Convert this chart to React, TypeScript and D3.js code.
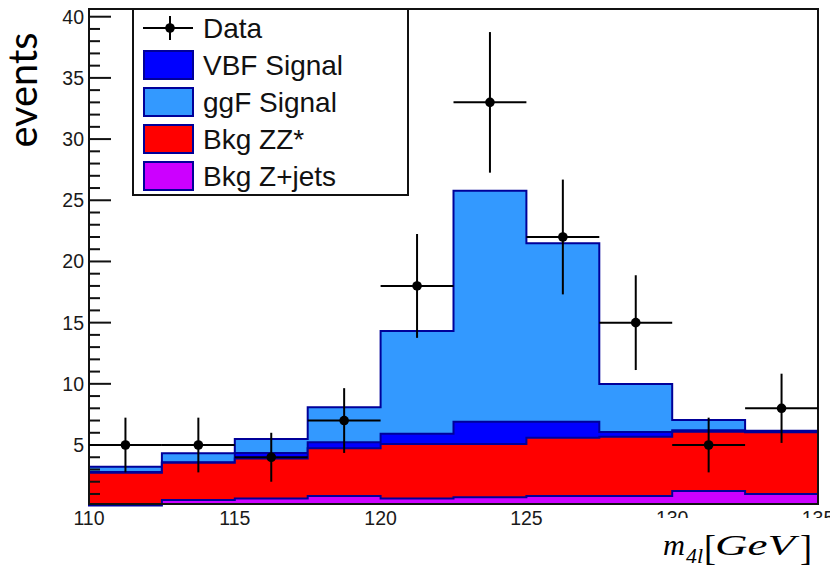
import React from "react";
import * as d3 from "d3";

// Bin edges of the four-lepton invariant mass histogram (GeV)
const binEdges = [110, 112.5, 115, 117.5, 120, 122.5, 125, 127.5, 130, 132.5, 135];

// Expected events per bin, per component (stacked bottom to top)
const bkgZjets = [0.05, 0.5, 0.62, 0.83, 0.62, 0.73, 0.83, 0.83, 1.24, 1.0];
const bkgZZ = [2.69, 3.06, 3.28, 3.9, 4.46, 4.35, 4.77, 4.85, 4.85, 5.04];
const vbfSignal = [0.06, 0.04, 0.45, 0.49, 0.84, 1.82, 1.3, 0.39, 0.11, 0.02];
const ggfSignal = [0.43, 0.72, 1.14, 2.86, 8.39, 18.88, 14.58, 3.91, 0.84, 0.11];

// Observed counts per bin
const dataCounts = [5, 5, 4, 7, 18, 33, 22, 15, 5, 8];

const xTicks = [110, 115, 120, 125, 130, 135];
const yMajorTicks = [5, 10, 15, 20, 25, 30, 35, 40];

const legendLabels = ["Data", "VBF Signal", "ggF Signal", "Bkg ZZ*", "Bkg Z+jets"];

const COLORS = {
  zjets: "#cc00ff",
  zz: "#ff0000",
  vbf: "#0000ff",
  ggf: "#3399ff",
  edge: "#000099",
};

const W = 830;
const H = 568;
const frame = { left: 89, right: 818, top: 9, bottom: 504 };

export default function App() {
  const x = d3.scaleLinear().domain([110, 135]).range([frame.left, frame.right]);
  const y = d3.scaleLinear().domain([0.18, 40.63]).range([frame.bottom, frame.top]);

  const rows = binEdges.slice(0, -1).map((_, i) => ({
    zjets: bkgZjets[i],
    zz: bkgZZ[i],
    vbf: vbfSignal[i],
    ggf: ggfSignal[i],
  }));
  const keys = ["zjets", "zz", "vbf", "ggf"] as const;
  const stacked = d3.stack<any>().keys(keys as any)(rows);

  // Step outline through cumulative tops of one stacked layer
  const stepPoints = (tops: number[]) => {
    const pts: [number, number][] = [];
    tops.forEach((t, i) => {
      pts.push([binEdges[i], t]);
      pts.push([binEdges[i + 1], t]);
    });
    return pts;
  };
  const area = d3
    .area<[number, number]>()
    .x((d) => x(d[0]))
    .y0(frame.bottom)
    .y1((d) => y(d[1]));
  const line = d3
    .line<[number, number]>()
    .x((d) => x(d[0]))
    .y((d) => (d[1] === -1 ? frame.bottom : y(d[1])));

  const layers = stacked
    .map((s, k) => ({ key: keys[k], tops: s.map((d) => d[1]) }))
    .reverse();

  const minorTicks = d3.range(1, 41).filter((v) => v % 5 !== 0);

  return (
    <svg
      width={W}
      height={H}
      style={{ position: "absolute", left: 0, top: 0, background: "#fff" }}
      fontFamily="'Liberation Sans', Arial, sans-serif"
    >
      <rect x={0} y={0} width={W} height={H} fill="#fff" />

      {/* stacked histogram, drawn top layer first so each outline stays visible */}
      {layers.map((l) => {
        const pts = stepPoints(l.tops);
        const outline: [number, number][] = [[binEdges[0], -1], ...pts, [binEdges[binEdges.length - 1], -1]];
        return (
          <g key={l.key}>
            <path d={area(pts) || ""} fill={(COLORS as any)[l.key]} />
            <path d={line(outline) || ""} fill="none" stroke={COLORS.edge} strokeWidth={2} />
          </g>
        );
      })}

      {/* frame */}
      <rect
        x={frame.left}
        y={frame.top}
        width={frame.right - frame.left}
        height={frame.bottom - frame.top}
        fill="none"
        stroke="#111"
        strokeWidth={2}
      />

      {/* y axis ticks */}
      {yMajorTicks.map((v) => (
        <g key={"M" + v}>
          <line x1={frame.left} x2={frame.left + 22} y1={y(v)} y2={y(v)} stroke="#111" strokeWidth={2} />
          <text x={84} y={y(v) + 7} textAnchor="end" fontSize={19.5} fill="#1a1a1a">
            {v}
          </text>
        </g>
      ))}
      {minorTicks.map((v) => (
        <line key={"m" + v} x1={frame.left} x2={frame.left + 11} y1={y(v)} y2={y(v)} stroke="#111" strokeWidth={2} />
      ))}

      {/* x axis labels */}
      {xTicks.map((v) => (
        <text key={"x" + v} x={x(v)} y={524.5} textAnchor="middle" fontSize={19.5} fill="#1a1a1a">
          {v}
        </text>
      ))}

      {/* data points with Poisson error bars */}
      {dataCounts.map((n, i) => {
        const c = (binEdges[i] + binEdges[i + 1]) / 2;
        const err = Math.sqrt(n);
        return (
          <g key={"d" + i} stroke="#000" strokeWidth={2}>
            <line x1={x(binEdges[i])} x2={x(binEdges[i + 1])} y1={y(n)} y2={y(n)} />
            <line x1={x(c)} x2={x(c)} y1={y(n - err)} y2={y(n + err)} />
            <circle cx={x(c)} cy={y(n)} r={4.8} fill="#000" stroke="none" />
          </g>
        );
      })}

      {/* legend */}
      <rect x={133} y={9} width={275} height={186} fill="#fff" stroke="#111" strokeWidth={2} />
      {legendLabels.map((label, i) => {
        const cy = 28 + 37 * i;
        const swatchColors = [null, COLORS.vbf, COLORS.ggf, COLORS.zz, COLORS.zjets];
        return (
          <g key={label}>
            {i === 0 ? (
              <g stroke="#000" strokeWidth={2}>
                <line x1={143} x2={193} y1={cy} y2={cy} />
                <line x1={170} x2={170} y1={cy - 12} y2={cy + 12} />
                <circle cx={170} cy={cy} r={4.8} fill="#000" stroke="none" />
              </g>
            ) : (
              <rect
                x={144}
                y={cy - 14}
                width={49}
                height={28}
                fill={swatchColors[i] as string}
                stroke={COLORS.edge}
                strokeWidth={2}
              />
            )}
            <text x={203} y={cy + 10} fontSize={28} fill="#111">
              {label}
            </text>
          </g>
        );
      })}

      {/* axis titles */}
      <text
        transform="translate(37,90) rotate(-90)"
        textAnchor="middle"
        fontFamily="Lato, 'Open Sans', sans-serif"
        fontSize={40}
        fill="#000"
        textLength={115}
        lengthAdjust="spacingAndGlyphs"
      >
        events
      </text>

      <rect x={640} y={518} width={190} height={50} fill="#fff" />
      <g fontFamily="'Liberation Serif', 'DejaVu Serif', serif" fill="#000">
        <text x={663} y={555} fontSize={30} fontStyle="italic" textLength={22} lengthAdjust="spacingAndGlyphs">
          m
        </text>
        <text x={686} y={563} fontSize={20} fontStyle="italic" textLength={17} lengthAdjust="spacingAndGlyphs">
          4l
        </text>
        <text x={704} y={560} fontSize={36}>
          [
        </text>
        <text x={715} y={555} fontSize={30} fontStyle="italic" textLength={80} lengthAdjust="spacingAndGlyphs">
          GeV
        </text>
        <text x={800} y={560} fontSize={36}>
          ]
        </text>
      </g>
    </svg>
  );
}
